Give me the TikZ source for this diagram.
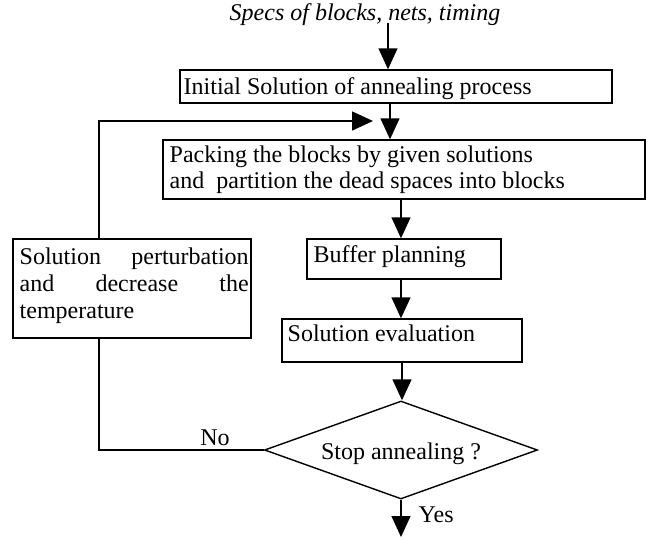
\documentclass[tikz,border=0pt]{standalone}
\usepackage{fontspec}
\setmainfont{Liberation Serif}
\usetikzlibrary{arrows.meta,shapes.geometric}
\begin{document}
\begin{tikzpicture}[x=1pt,y=-1pt,
  line width=1.4pt,
  font=\fontsize{24}{27.6}\selectfont,
  arr/.style={-{Triangle[length=21pt,width=19pt]}},
  boxr/.style={draw,rectangle,inner sep=0pt,minimum width=#1},
  txt/.style={inner sep=0pt,anchor=base west},
]
\useasboundingbox (0,0) rectangle (651,539);
% boxes
\node[boxr=432pt,minimum height=33pt] (b1) at (396,86.5) {};
\node[boxr=482pt,minimum height=59pt] (b2) at (404,169.5) {};
\node[boxr=238pt,minimum height=99pt] (lb) at (132,288.5) {};
\node[boxr=194pt,minimum height=40pt] (buf) at (404,259) {};
\node[boxr=240pt,minimum height=43pt] (ev) at (402,340.5) {};
\node[draw,diamond,inner sep=0pt,minimum width=273pt,minimum height=98pt] (dia) at (401,450) {};
% texts
\node[inner sep=0pt,anchor=base] (spec) at (365,20) {\itshape Specs of blocks, nets, timing};
\node[txt] (t1) at (183,94) {Initial Solution of annealing process};
\node[txt] (t2a) at (169,162) {Packing the blocks by given solutions};
\node[txt] (t2b) at (169,188) {and\ \ partition the dead spaces into blocks};
\node[txt] (tla) at (19,264) {\makebox[229pt][s]{Solution perturbation}};
\node[txt] (tlb) at (19,291) {\makebox[229pt][s]{and decrease the}};
\node[txt] (tlc) at (19,318) {temperature};
\node[txt] (tbuf) at (313,262) {Buffer planning};
\node[txt] (tev) at (287,341) {Solution evaluation};
\node[inner sep=0pt,anchor=base] (tdia) at (401,459) {Stop annealing ?};
\node[inner sep=0pt,anchor=base] (no) at (215,445) {No};
\node[txt] (yes) at (418,522) {Yes};
% coordinates
\coordinate (s0) at (388,23);
\coordinate (lp) at (373,121);
\coordinate (endp) at (401,537);
% connectors
\draw[arr] (s0) -- (s0 |- b1.north);
\draw[arr] ([xshift=-6pt]b1.south) -- ([xshift=-6pt]b1.south |- b2.north);
\draw[arr] ([xshift=-33pt]lb.north) |- (lp);
\draw[arr] ([xshift=-3pt]b2.south) -- ([xshift=-3pt]b2.south |- buf.north);
\draw[arr] ([xshift=-3pt]buf.south) -- ([xshift=-3pt]buf.south |- ev.north);
\draw[arr] (ev.south) -- (ev.south |- dia.north);
\draw (dia.west) -| ([xshift=-33pt]lb.south);
\draw[arr] (dia.south) -- (endp);
\end{tikzpicture}
\end{document}
